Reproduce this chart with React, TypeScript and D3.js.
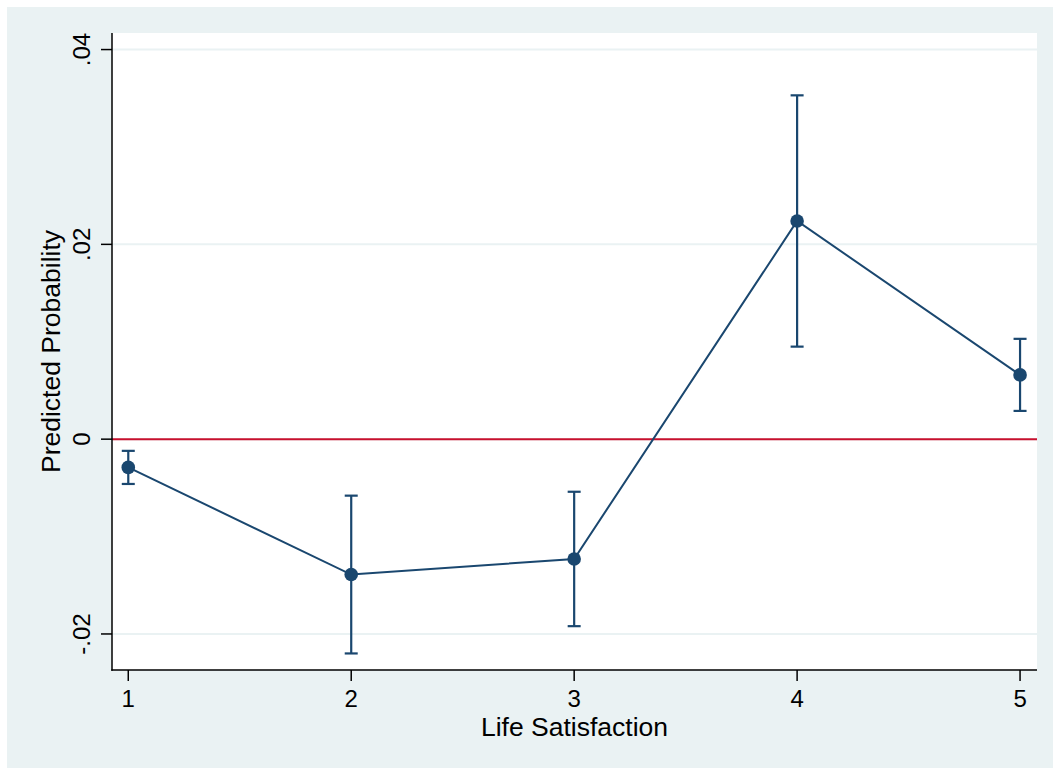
import * as d3 from "d3";

// predicted probability by life satisfaction level, with confidence bounds
const levels = [1, 2, 3, 4, 5];
const estimates = [-0.0029, -0.0139, -0.0123, 0.0224, 0.0066];
const lowerBounds = [-0.0046, -0.0220, -0.0192, 0.0095, 0.0029];
const upperBounds = [-0.0012, -0.0058, -0.0054, 0.0353, 0.0103];
const yTicks = [-0.02, 0, 0.02, 0.04];
const yTickLabels = ["-.02", "0", ".02", ".04"];
const xTicks = [1, 2, 3, 4, 5];

const W = 1053;
const H = 768;
const plot = { left: 112, right: 1037, top: 33, bottom: 670 };

const navy = "#1a476f";
const red = "#c8102e";
const bg = "#eaf2f3";
const font = "'Liberation Sans', Arial, Helvetica, sans-serif";

export default function App() {
  const x = d3.scaleLinear().domain([0.927, 5.076]).range([plot.left, plot.right]);
  const y = d3.scaleLinear().domain([-0.0237, 0.0417]).range([plot.bottom, plot.top]);

  const points = levels.map((lv, i) => ({
    lv,
    est: estimates[i],
    lo: lowerBounds[i],
    hi: upperBounds[i],
  }));

  const line = d3
    .line<{ lv: number; est: number }>()
    .x((d) => x(d.lv))
    .y((d) => y(d.est));

  return (
    <svg
      width={W}
      height={H}
      style={{ position: "absolute", left: 0, top: 0 }}
      fontFamily={font}
    >
      <rect x={0} y={0} width={W} height={H} fill="#fff" />
      <rect x={7} y={7} width={W - 7} height={H - 7} fill={bg} />
      <rect
        x={plot.left}
        y={plot.top}
        width={plot.right - plot.left}
        height={plot.bottom - plot.top}
        fill="#fff"
      />

      {/* gridlines */}
      {yTicks.map((t) => (
        <line
          key={"g" + t}
          x1={plot.left}
          x2={plot.right}
          y1={y(t)}
          y2={y(t)}
          stroke={bg}
          strokeWidth={2}
        />
      ))}

      {/* zero reference line */}
      <line
        x1={plot.left}
        x2={plot.right}
        y1={y(0)}
        y2={y(0)}
        stroke={red}
        strokeWidth={2}
      />

      {/* error bars */}
      {points.map((d) => (
        <g key={"e" + d.lv} stroke={navy} strokeWidth={2.2}>
          <line x1={x(d.lv)} x2={x(d.lv)} y1={y(d.lo)} y2={y(d.hi)} />
          <line x1={x(d.lv) - 6.5} x2={x(d.lv) + 6.5} y1={y(d.lo)} y2={y(d.lo)} />
          <line x1={x(d.lv) - 6.5} x2={x(d.lv) + 6.5} y1={y(d.hi)} y2={y(d.hi)} />
        </g>
      ))}

      <path d={line(points) ?? ""} fill="none" stroke={navy} strokeWidth={2} />

      {points.map((d) => (
        <circle key={"p" + d.lv} cx={x(d.lv)} cy={y(d.est)} r={6.8} fill={navy} />
      ))}

      {/* axes */}
      <line x1={plot.left} x2={plot.left} y1={plot.top} y2={plot.bottom + 0.75} stroke="#000" strokeWidth={1.5} />
      <line x1={plot.left - 0.75} x2={plot.right} y1={plot.bottom} y2={plot.bottom} stroke="#000" strokeWidth={1.5} />

      {yTicks.map((t, i) => (
        <g key={"yt" + t}>
          <line x1={plot.left - 11} x2={plot.left} y1={y(t)} y2={y(t)} stroke="#000" strokeWidth={1.5} />
          <text
            transform={`translate(90, ${y(t)}) rotate(-90)`}
            textAnchor="middle"
            fontSize={24}
            fill="#000"
          >
            {yTickLabels[i]}
          </text>
        </g>
      ))}

      {xTicks.map((t) => (
        <g key={"xt" + t}>
          <line x1={x(t)} x2={x(t)} y1={plot.bottom} y2={plot.bottom + 11} stroke="#000" strokeWidth={1.5} />
          <text x={x(t)} y={707} textAnchor="middle" fontSize={24} fill="#000">
            {t}
          </text>
        </g>
      ))}

      <text
        x={(plot.left + plot.right) / 2}
        y={736}
        textAnchor="middle"
        fontSize={26.5}
        fill="#000"
      >
        Life Satisfaction
      </text>
      <text
        transform={`translate(60, ${(plot.top + plot.bottom) / 2}) rotate(-90)`}
        textAnchor="middle"
        fontSize={26.5}
        fill="#000"
      >
        Predicted Probability
      </text>
    </svg>
  );
}
